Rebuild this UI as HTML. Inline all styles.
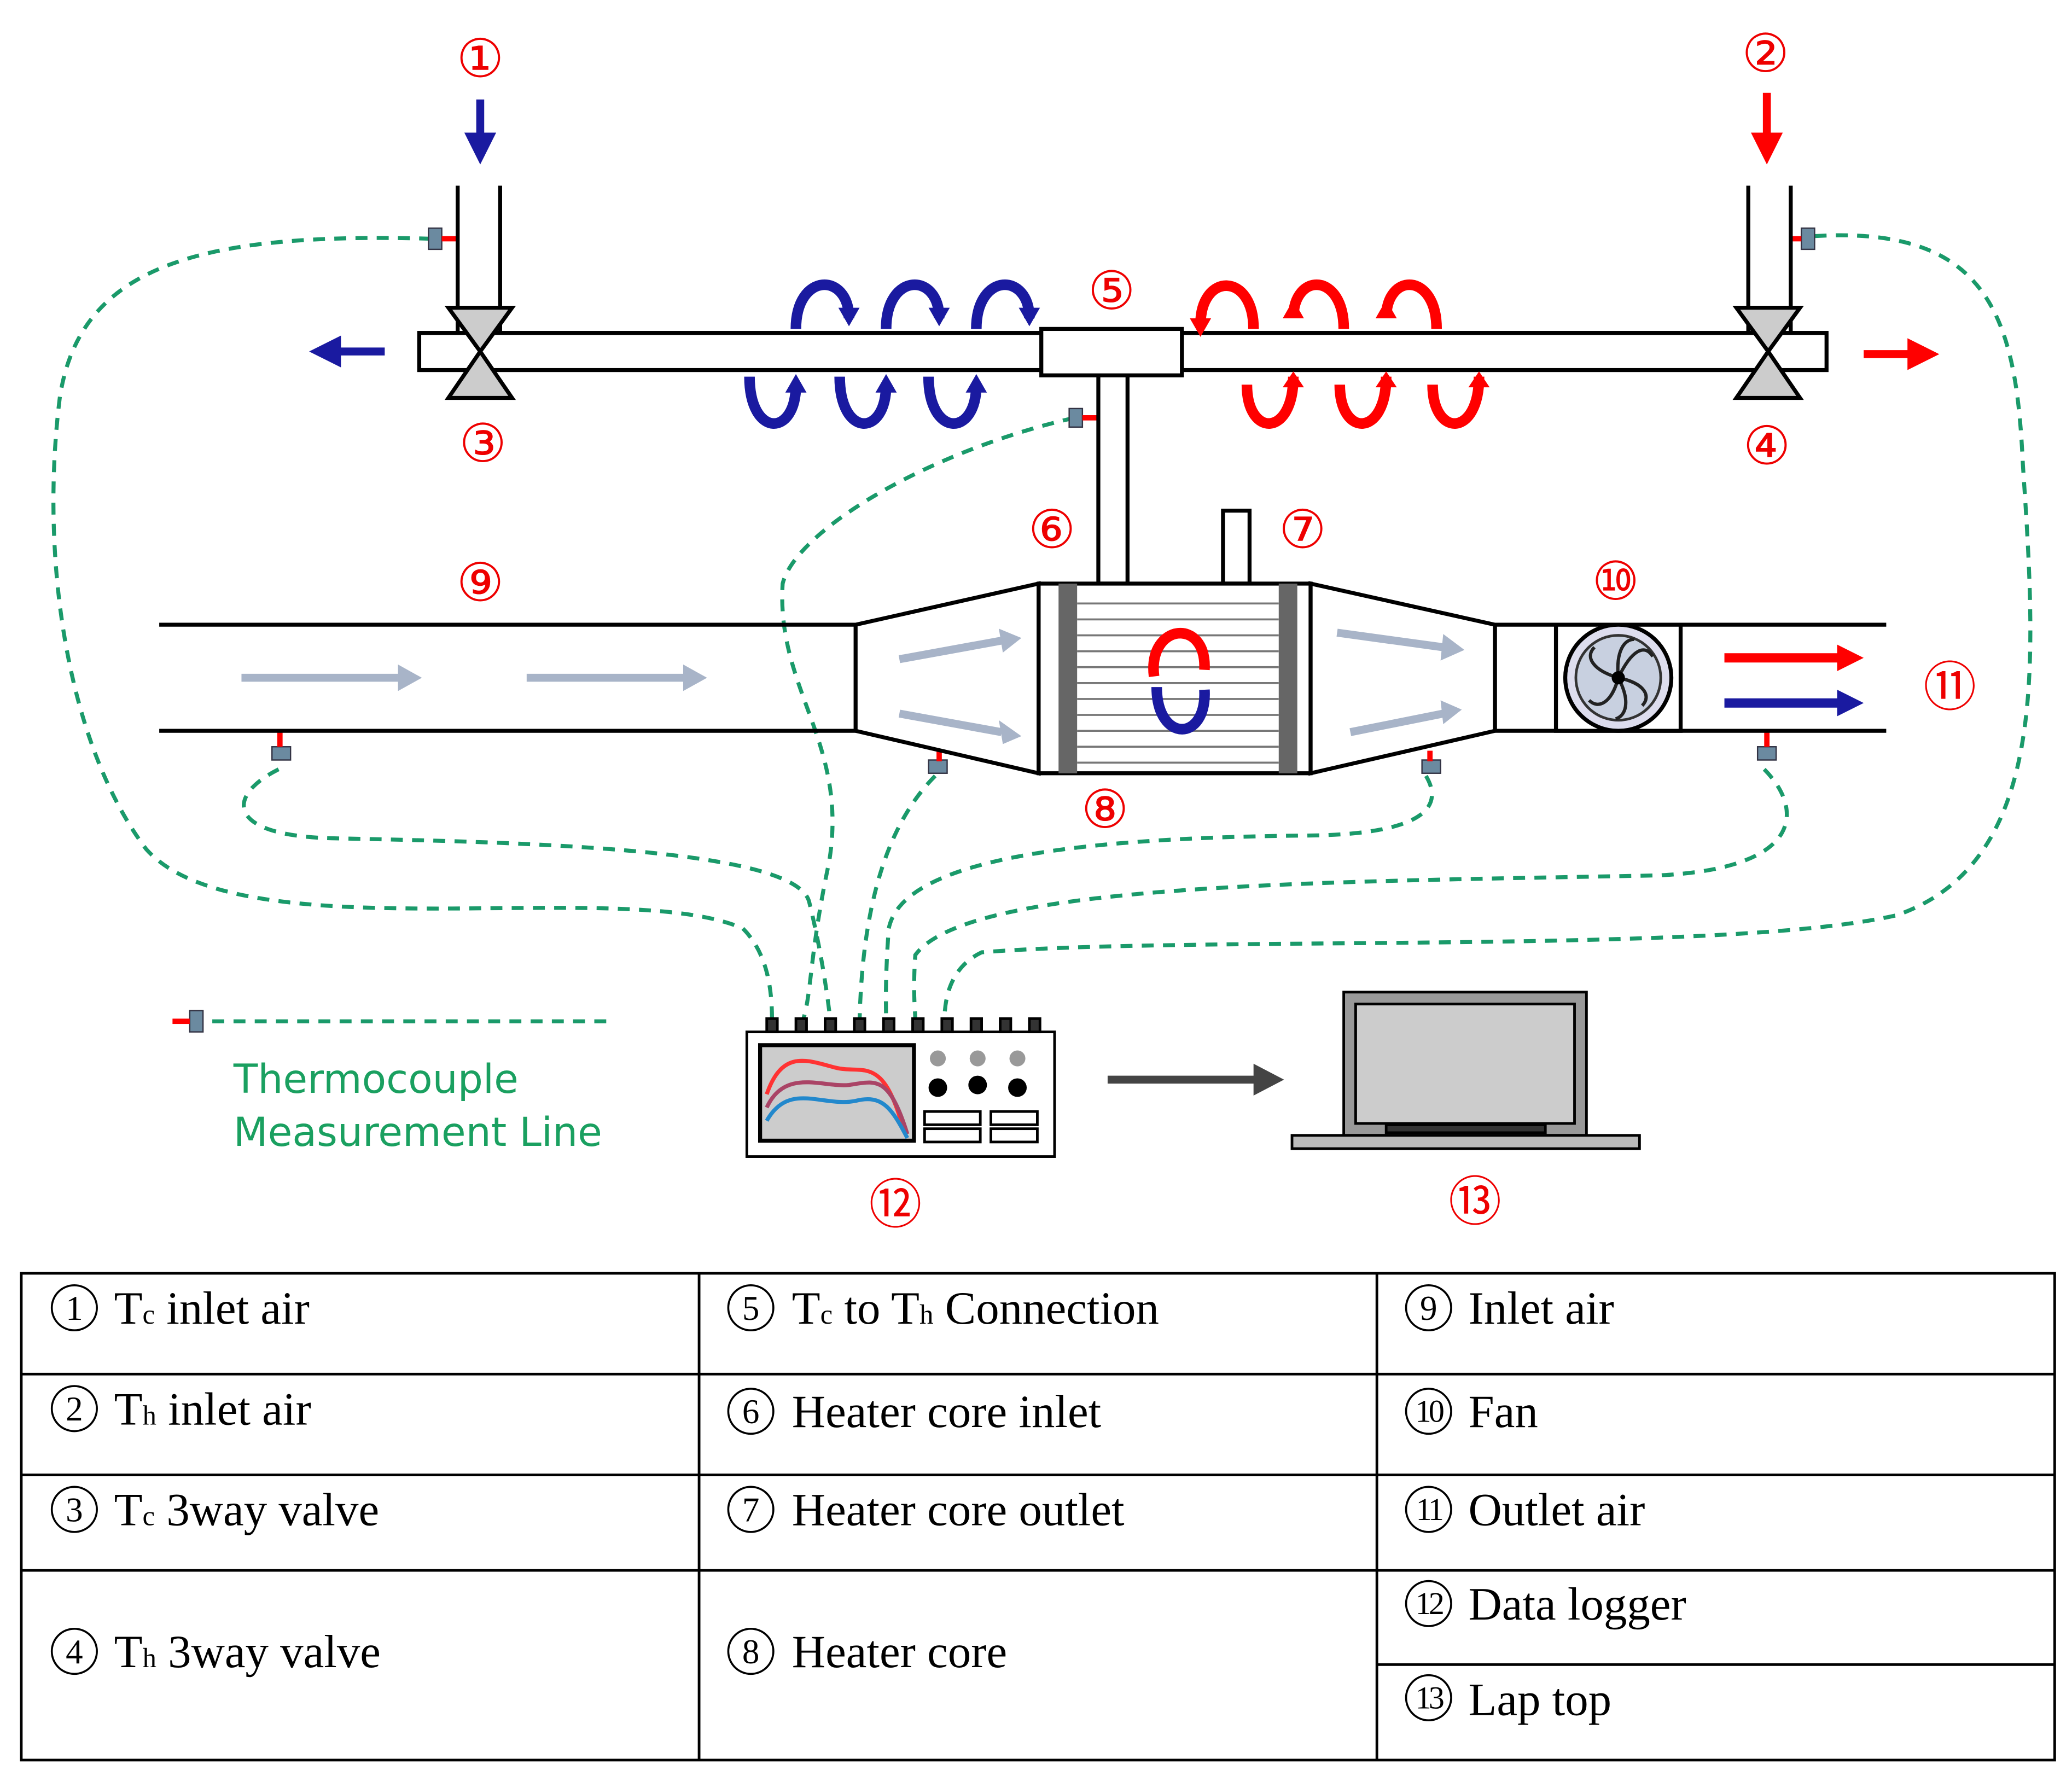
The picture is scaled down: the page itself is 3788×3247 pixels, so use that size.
<!DOCTYPE html>
<html><head><meta charset="utf-8"><style>
html,body{margin:0;padding:0;background:#fff;}
svg{display:block;}
</style></head><body>
<svg width="3788" height="3247" viewBox="0 0 1562 1339" xmlns="http://www.w3.org/2000/svg">
<defs>
<marker id="ab" markerWidth="4" markerHeight="4" refX="2" refY="2" orient="auto"><path d="M0,0 L4,2 L0,4z" fill="#1a1aa0"/></marker>
<marker id="ar" markerWidth="4" markerHeight="4" refX="2" refY="2" orient="auto"><path d="M0,0 L4,2 L0,4z" fill="#f00"/></marker>
</defs>
<rect width="1562" height="1339" fill="#fff"/>
<g font-family="Liberation Serif, serif" fill="#e00" font-size="40" text-anchor="middle">
<text x="362" y="58">①</text><text x="1331" y="54">②</text><text x="364" y="348">③</text><text x="1332" y="350">④</text>
<text x="838" y="233">⑤</text><text x="793" y="413">⑥</text><text x="982" y="413">⑦</text><text x="833" y="624">⑧</text>
<text x="362" y="453">⑨</text><text x="1218" y="452">⑩</text><text x="1470" y="532">⑪</text><text x="675" y="922">⑫</text><text x="1112" y="920">⑬</text>
</g>
<g fill="none" stroke="#1a9a6a" stroke-width="3" stroke-dasharray="9,7">
<path d="M325,180 C150,175 60,200 45,300 C30,420 50,560 110,640 C180,720 470,660 560,700 C580,720 582,750 582,770"/>
<path d="M810,315 C700,340 600,400 590,440 C585,520 640,560 625,650 C610,720 612,750 605,770"/>
<path d="M210,580 C170,600 170,630 250,632 C400,635 600,640 610,680 C620,720 625,760 626,770"/>
<path d="M705,585 C670,620 650,680 648,770"/>
<path d="M1075,585 C1090,610 1070,630 980,630 C800,632 680,650 670,700 C667,740 668,760 668,770"/>
<path d="M1330,580 C1360,610 1360,655 1250,660 C1000,665 730,665 690,720 C688,750 690,760 690,770"/>
<path d="M1368,178 C1500,170 1520,240 1525,350 C1535,500 1545,650 1430,690 C1300,720 900,705 740,718 C715,730 712,755 712,770"/>
<path d="M160,770 L460,770"/>
</g>
<g>
<rect x="323" y="172" width="10" height="16" fill="#6b8aa0" stroke="#334" stroke-width="1"/><rect x="333" y="178" width="12" height="4" fill="#f00"/>
<rect x="1358" y="172" width="10" height="16" fill="#6b8aa0" stroke="#334"/><rect x="1350" y="178" width="8" height="4" fill="#f00"/>
<rect x="806" y="308" width="10" height="14" fill="#6b8aa0" stroke="#334"/><rect x="816" y="313" width="12" height="4" fill="#f00"/>
<rect x="143" y="762" width="10" height="16" fill="#6b8aa0" stroke="#334"/><rect x="130" y="768" width="13" height="4" fill="#f00"/>
<rect x="205" y="563" width="14" height="10" fill="#6b8aa0" stroke="#334"/><rect x="209" y="552" width="4" height="11" fill="#f00"/>
<rect x="700" y="573" width="14" height="10" fill="#6b8aa0" stroke="#334"/><rect x="706" y="566" width="4" height="8" fill="#f00"/>
<rect x="1072" y="573" width="14" height="10" fill="#6b8aa0" stroke="#334"/><rect x="1076" y="566" width="4" height="8" fill="#f00"/>
<rect x="1325" y="563" width="14" height="10" fill="#6b8aa0" stroke="#334"/><rect x="1330" y="552" width="4" height="11" fill="#f00"/>
</g>
<g stroke="#000" stroke-width="3" fill="#fff">
<rect x="345" y="140" width="32" height="120" stroke="none"/>
<line x1="345" y1="140" x2="345" y2="251"/><line x1="377" y1="140" x2="377" y2="251"/>
<line x1="1318" y1="140" x2="1318" y2="251"/><line x1="1350" y1="140" x2="1350" y2="251"/>
<rect x="316" y="251" width="470" height="28"/>
<rect x="891" y="251" width="486" height="28"/>
<rect x="828" y="280" width="22" height="160"/>
<rect x="785" y="248" width="106" height="35"/>
<rect x="922" y="385" width="20" height="55"/>
<path d="M338,232 L386,232 L362,265z M338,300 L386,300 L362,265z" fill="#ccc"/>
<path d="M1309,232 L1357,232 L1333,265z M1309,300 L1357,300 L1333,265z" fill="#ccc"/>
</g>
<g stroke-width="6">
<line x1="362" y1="75" x2="362" y2="112" stroke="#1a1aa0" marker-end="url(#ab)"/>
<line x1="1332" y1="70" x2="1332" y2="112" stroke="#f00" marker-end="url(#ar)"/>
<line x1="290" y1="265" x2="245" y2="265" stroke="#1a1aa0" marker-end="url(#ab)"/>
<line x1="1405" y1="267" x2="1450" y2="267" stroke="#f00" marker-end="url(#ar)"/>
</g>
<g fill="none" stroke-width="8">
<g stroke="#1a1aa0"><path d="M600,248 C600,205 640,205 640,240"/><path d="M668,248 C668,205 708,205 708,240"/><path d="M736,248 C736,205 776,205 776,240"/>
<path d="M565,284 C565,330 600,330 600,290"/><path d="M633,284 C633,330 668,330 668,290"/><path d="M700,284 C700,330 736,330 736,290"/></g>
<g stroke="#f00"><path d="M905,245 C905,205 945,205 945,248"/><path d="M975,240 C975,205 1013,205 1013,248"/><path d="M1045,240 C1045,205 1083,205 1083,248"/>
<path d="M940,290 C940,330 975,330 975,284"/><path d="M1010,290 C1010,330 1045,330 1045,284"/><path d="M1080,290 C1080,330 1115,330 1115,284"/></g>
</g>
<g fill="#1a1aa0"><path d="M632,232 L648,232 L640,246z"/><path d="M700,232 L716,232 L708,246z"/><path d="M768,232 L784,232 L776,246z"/><path d="M592,296 L608,296 L600,282z"/><path d="M660,296 L676,296 L668,282z"/><path d="M728,296 L744,296 L736,282z"/></g>
<g fill="#f00"><path d="M897,240 L913,240 L905,254z"/><path d="M967,240 L983,240 L975,226z"/><path d="M1037,240 L1053,240 L1045,226z"/><path d="M967,292 L983,292 L975,280z"/><path d="M1037,292 L1053,292 L1045,280z"/><path d="M1107,292 L1123,292 L1115,280z"/></g>
<g stroke="#000" stroke-width="3" fill="#fff">
<line x1="120" y1="471" x2="645" y2="471"/><line x1="120" y1="551" x2="645" y2="551"/>
<path d="M645,471 L783,440 L783,583 L645,551z"/>
<path d="M988,440 L1127,471 L1127,551 L988,583z"/>
<line x1="1127" y1="471" x2="1422" y2="471"/><line x1="1127" y1="551" x2="1422" y2="551"/>
<line x1="1127" y1="471" x2="1127" y2="551"/>
<rect x="783" y="440" width="205" height="143"/>
<rect x="1173" y="471" width="94" height="80"/>
</g>
<rect x="798" y="440" width="14" height="143" fill="#666"/><rect x="964" y="440" width="14" height="143" fill="#666"/>
<g stroke="#777" stroke-width="1.5">
<line x1="812" y1="455" x2="964" y2="455"/><line x1="812" y1="467" x2="964" y2="467"/><line x1="812" y1="479" x2="964" y2="479"/><line x1="812" y1="491" x2="964" y2="491"/><line x1="812" y1="503" x2="964" y2="503"/><line x1="812" y1="515" x2="964" y2="515"/><line x1="812" y1="527" x2="964" y2="527"/><line x1="812" y1="539" x2="964" y2="539"/><line x1="812" y1="551" x2="964" y2="551"/><line x1="812" y1="563" x2="964" y2="563"/><line x1="812" y1="575" x2="964" y2="575"/>
</g>
<path d="M870,510 C865,470 910,465 908,505" fill="none" stroke="#f00" stroke-width="8"/>
<path d="M872,518 C872,560 910,560 908,520" fill="none" stroke="#1a1aa0" stroke-width="8"/>
<circle cx="1220" cy="511" r="40" fill="#dde" stroke="#000" stroke-width="3"/>
<circle cx="1220" cy="511" r="32" fill="#c8d0e0" stroke="#333" stroke-width="2"/>
<g stroke="#222" stroke-width="2.5" fill="none"><path d="M1220,511 C1230,490 1240,485 1246,495"/><path d="M1220,511 C1240,515 1245,525 1238,532"/><path d="M1220,511 C1215,530 1205,535 1198,528"/><path d="M1220,511 C1200,505 1195,495 1202,488"/><path d="M1220,511 C1218,490 1225,482 1232,482"/><path d="M1220,511 C1230,530 1225,540 1218,542"/></g>
<circle cx="1220" cy="511" r="5" fill="#000"/>
<g stroke="#a8b4c8" stroke-width="6" fill="none">
<line x1="182" y1="511" x2="300" y2="511"/><line x1="397" y1="511" x2="515" y2="511"/>
<line x1="678" y1="497" x2="755" y2="483"/><line x1="678" y1="538" x2="755" y2="552"/>
<line x1="1008" y1="477" x2="1088" y2="488"/><line x1="1018" y1="552" x2="1088" y2="538"/>
</g>
<g fill="#a8b4c8"><path d="M300,501 L318,511 L300,521z"/><path d="M515,501 L533,511 L515,521z"/><path d="M753,474 L770,481 L756,492z"/><path d="M753,543 L770,555 L756,561z"/><path d="M1088,478 L1104,490 L1086,498z"/><path d="M1086,528 L1102,535 L1088,546z"/></g>
<line x1="1300" y1="496" x2="1390" y2="496" stroke="#f00" stroke-width="7"/><path d="M1385,486 L1405,496 L1385,506z" fill="#f00"/>
<line x1="1300" y1="530" x2="1390" y2="530" stroke="#1a1aa0" stroke-width="7"/><path d="M1385,520 L1405,530 L1385,540z" fill="#1a1aa0"/>
<g stroke="#000" stroke-width="2">
<rect x="563" y="778" width="232" height="94" fill="#fff"/>
<rect x="573" y="788" width="116" height="72" fill="#ccc" stroke-width="3"/>
<g fill="#333"><rect x="578" y="768" width="8" height="10"/><rect x="600" y="768" width="8" height="10"/><rect x="622" y="768" width="8" height="10"/><rect x="644" y="768" width="8" height="10"/><rect x="666" y="768" width="8" height="10"/><rect x="688" y="768" width="8" height="10"/><rect x="710" y="768" width="8" height="10"/><rect x="732" y="768" width="8" height="10"/><rect x="754" y="768" width="8" height="10"/><rect x="776" y="768" width="8" height="10"/></g>
<rect x="697" y="838" width="42" height="10" fill="#fff"/><rect x="747" y="838" width="35" height="10" fill="#fff"/>
<rect x="697" y="851" width="42" height="10" fill="#fff"/><rect x="747" y="851" width="35" height="10" fill="#fff"/>
</g>
<g stroke="none"><circle cx="707" cy="798" r="6" fill="#999"/><circle cx="737" cy="798" r="6" fill="#999"/><circle cx="767" cy="798" r="6" fill="#999"/>
<circle cx="707" cy="820" r="7" fill="#000"/><circle cx="737" cy="818" r="7" fill="#000"/><circle cx="767" cy="820" r="7" fill="#000"/></g>
<g fill="none" stroke-width="3"><path d="M578,825 C590,790 610,800 630,805 C650,810 665,795 680,848" stroke="#f33"/><path d="M578,835 C592,805 620,820 640,818 C660,815 670,810 684,855" stroke="#a46"/><path d="M578,845 C595,815 620,835 645,830 C665,825 672,835 684,858" stroke="#28c"/></g>
<line x1="835" y1="814" x2="950" y2="814" stroke="#444" stroke-width="6"/><path d="M945,802 L968,814 L945,826z" fill="#444"/>
<g stroke="#000" stroke-width="2">
<rect x="1013" y="748" width="183" height="108" fill="#999"/>
<rect x="1022" y="757" width="165" height="90" fill="#ccc"/>
<rect x="974" y="856" width="262" height="10" fill="#bbb"/>
<rect x="1045" y="848" width="120" height="6" fill="#333"/>
</g>
<g font-family="DejaVu Sans, sans-serif" font-size="30" fill="#1aa060"><text x="176" y="824">Thermocouple</text><text x="176" y="864">Measurement Line</text></g>
<g stroke="#000" stroke-width="2" fill="none">
<rect x="16" y="960" width="1533" height="367"/>
<line x1="527" y1="960" x2="527" y2="1327"/><line x1="1038" y1="960" x2="1038" y2="1327"/>
<line x1="16" y1="1036" x2="1549" y2="1036"/><line x1="16" y1="1112" x2="1549" y2="1112"/><line x1="16" y1="1184" x2="1549" y2="1184"/>
<line x1="1038" y1="1255" x2="1549" y2="1255"/>
<g stroke-width="1.5">
<circle cx="56" cy="986" r="17"/><circle cx="56" cy="1062" r="17"/><circle cx="56" cy="1138" r="17"/><circle cx="56" cy="1245" r="17"/>
<circle cx="566" cy="986" r="17"/><circle cx="566" cy="1064" r="17"/><circle cx="566" cy="1138" r="17"/><circle cx="566" cy="1245" r="17"/>
<circle cx="1077" cy="986" r="17"/><circle cx="1077" cy="1064" r="17"/><circle cx="1077" cy="1138" r="17"/><circle cx="1077" cy="1209" r="17"/><circle cx="1077" cy="1280" r="17"/>
</g>
</g>
<g font-family="Liberation Serif, serif" font-size="26" fill="#000" text-anchor="middle">
<text x="56" y="995">1</text><text x="56" y="1071">2</text><text x="56" y="1147">3</text><text x="56" y="1254">4</text>
<text x="566" y="995">5</text><text x="566" y="1073">6</text><text x="566" y="1147">7</text><text x="566" y="1254">8</text>
<text x="1077" y="995">9</text><text x="1077" y="1072" font-size="24" letter-spacing="-2">10</text><text x="1077" y="1146" font-size="24" letter-spacing="-2">11</text><text x="1077" y="1217" font-size="24" letter-spacing="-2">12</text><text x="1077" y="1288" font-size="24" letter-spacing="-2">13</text>
</g>
<g font-family="Liberation Serif, serif" font-size="35" fill="#000">
<text x="86" y="998">T<tspan font-size="21">c</tspan> inlet air</text>
<text x="86" y="1074">T<tspan font-size="21">h</tspan> inlet air</text>
<text x="86" y="1150">T<tspan font-size="21">c</tspan> 3way valve</text>
<text x="86" y="1257">T<tspan font-size="21">h</tspan> 3way valve</text>
<text x="597" y="998">T<tspan font-size="21">c</tspan> to T<tspan font-size="21">h</tspan> Connection</text>
<text x="597" y="1076">Heater core inlet</text>
<text x="597" y="1150">Heater core outlet</text>
<text x="597" y="1257">Heater core</text>
<text x="1107" y="998">Inlet air</text>
<text x="1107" y="1076">Fan</text>
<text x="1107" y="1150">Outlet air</text>
<text x="1107" y="1221">Data logger</text>
<text x="1107" y="1293">Lap top</text>
</g>
</svg>
</body></html>
